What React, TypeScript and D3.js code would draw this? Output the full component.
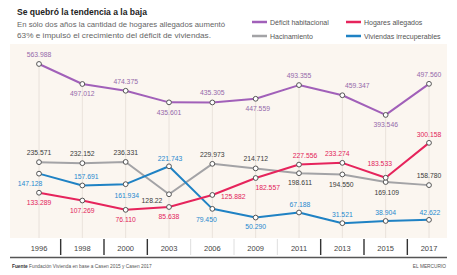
import * as d3 from 'd3';

const years = ['1996', '1998', '2000', '2003', '2006', '2009', '2011', '2013', '2015', '2017'];

const deficit = [563988, 497012, 474375, 435601, 435305, 447559, 493355, 459347, 393546, 497560];
const hacinamiento = [235571, 232152, 236331, 128220, 229973, 214712, 198611, 194550, 169109, 158780];
const hogares = [133289, 107269, 76110, 85638, 125882, 182557, 227556, 233274, 183533, 300158];
// first point is drawn higher than its printed label in the original
const viviendas = [197128, 157691, 161934, 221743, 79450, 50290, 67188, 31521, 38904, 42622];

const deficitLabels = ['563.988', '497.012', '474.375', '435.601', '435.305', '447.559', '493.355', '459.347', '393.546', '497.560'];
const hacinamientoLabels = ['235.571', '232.152', '236.331', '128.22', '229.973', '214.712', '198.611', '194.550', '169.109', '158.780'];
const hogaresLabels = ['133.289', '107.269', '76.110', '85.638', '125.882', '182.557', '227.556', '233.274', '183.533', '300.158'];
const viviendasLabels = ['147.128', '157.691', '161.934', '221.743', '79.450', '50.290', '67.188', '31.521', '38.904', '42.622'];

// label offsets [dx, dy] relative to each point
const A = -7, B = 12.5;
const deficitPos = [[0, A], [0, B], [0, A], [0, B], [0, A], [2, B], [0, A], [15, A], [0, B], [0, A]];
const hacinamientoPos = [[0, A], [0, A], [0, A], [-17, 8.5], [0, A], [0, A], [1, 11.5], [-1, B], [1, B], [0, A]];
const hogaresPos = [[0, B], [0, B], [0, B], [0, B], [21, 4.5], [12, 11.5], [6, A], [-5, A], [-6, -11.5], [0, -5.5]];
const viviendasPos = [[-9, B], [4, -6.5], [1, 13.5], [1, -5.5], [-6, 13.5], [0, 11.5], [1, -5.5], [0, -6.5], [0, -5.5], [1, -4.5]];

const series = [
  { name: 'Hacinamiento', values: hacinamiento, labels: hacinamientoLabels, pos: hacinamientoPos, color: '#a3a3a6', text: '#3a3a3a' },
  { name: 'Viviendas irrecuperables', values: viviendas, labels: viviendasLabels, pos: viviendasPos, color: '#1f82c4', text: '#2689cf' },
  { name: 'Hogares allegados', values: hogares, labels: hogaresLabels, pos: hogaresPos, color: '#e6245c', text: '#e2235a' },
  { name: 'Déficit habitacional', values: deficit, labels: deficitLabels, pos: deficitPos, color: '#a160b9', text: '#9569aa' },
];

const legendOrder = [
  { name: 'Déficit habitacional', color: '#a160b9', x: 252, y: 22 },
  { name: 'Hogares allegados', color: '#e6245c', x: 346, y: 22 },
  { name: 'Hacinamiento', color: '#a3a3a6', x: 252, y: 36 },
  { name: 'Viviendas irrecuperables', color: '#1f82c4', x: 346, y: 36 },
];

const W = 457, H = 275;
const plotBottom = 238;
const darkSeps = [true, true, true, false, false, false, true, true, true];

export default function App() {
  const x = d3.scalePoint().domain(years).range([39, 429]);
  const y = d3.scaleLinear().domain([0, 600000]).range([232.6, 53.2]);
  const line = d3.line<number>().x((_, i) => x(years[i])!).y(d => y(d));
  const font = 'Liberation Sans, Arial, sans-serif';
  const topOf = years.map((_, i) => d3.min(series, s => y(s.values[i]))!);

  return (
    <svg width={W} height={H} style={{ position: 'absolute', left: 0, top: 0, background: '#fff' }} fontFamily={font}>
      <rect x={10} y={44} width={437} height={plotBottom - 44} fill="#fbf6f0" />
      {years.map((yr, i) => (
        <line key={yr} x1={x(yr)} x2={x(yr)} y1={topOf[i]} y2={plotBottom} stroke="#e4ddd5" strokeWidth={0.8} />
      ))}

      <text x={17} y={15} fontSize={9.5} fontWeight="bold" fill="#222" textLength={130} lengthAdjust="spacingAndGlyphs">Se quebró la tendencia a la baja</text>
      <text x={17} y={27} fontSize={7} fill="#666" textLength={208} lengthAdjust="spacingAndGlyphs">En sólo dos años la cantidad de hogares allegados aumentó</text>
      <text x={17} y={38} fontSize={7} fill="#666" textLength={194} lengthAdjust="spacingAndGlyphs">63% e impulsó el crecimiento del déficit de viviendas.</text>

      {legendOrder.map(l => (
        <g key={l.name}>
          <line x1={l.x} x2={l.x + 15} y1={l.y} y2={l.y} stroke={l.color} strokeWidth={2.5} />
          <text x={l.x + 18} y={l.y + 2.5} fontSize={7} fill="#555">{l.name}</text>
        </g>
      ))}

      {series.map(s => (
        <path key={s.name} d={line(s.values)!} fill="none" stroke={s.color} strokeWidth={2} strokeLinejoin="round" />
      ))}
      {series.map(s => s.values.map((v, i) => (
        <circle key={s.name + i} cx={x(years[i])} cy={y(v)} r={2.4} fill="#fff" stroke="#555" strokeWidth={1} />
      )))}
      {series.map(s => s.values.map((v, i) => (
        <text key={s.name + 't' + i} x={x(years[i])! + s.pos[i][0]} y={y(v) + s.pos[i][1]}
          fontSize={6.8} fill={s.text} textAnchor="middle">{s.labels[i]}</text>
      )))}

      {years.map(yr => (
        <text key={yr} x={x(yr)} y={250.5} fontSize={7.5} fill="#444" textAnchor="middle">{yr}</text>
      ))}
      {years.slice(1).map((yr, i) => {
        const sx = (x(years[i])! + x(yr)!) / 2;
        return <line key={'s' + yr} x1={sx} x2={sx} y1={239} y2={255}
          stroke={darkSeps[i] ? '#333' : '#d6d6d6'} strokeWidth={darkSeps[i] ? 1.4 : 0.8} />;
      })}
      <line x1={10} x2={447} y1={257.5} y2={257.5} stroke="#555" strokeWidth={1.3} />
      <text x={12} y={268} fontSize={4.8} fill="#555">
        <tspan fontWeight="bold" fill="#333">Fuente</tspan> Fundación Vivienda en base a Casen 2015 y Casen 2017
      </text>
      <text x={446} y={268} fontSize={4.8} fill="#555" textAnchor="end">EL MERCURIO</text>
    </svg>
  );
}
